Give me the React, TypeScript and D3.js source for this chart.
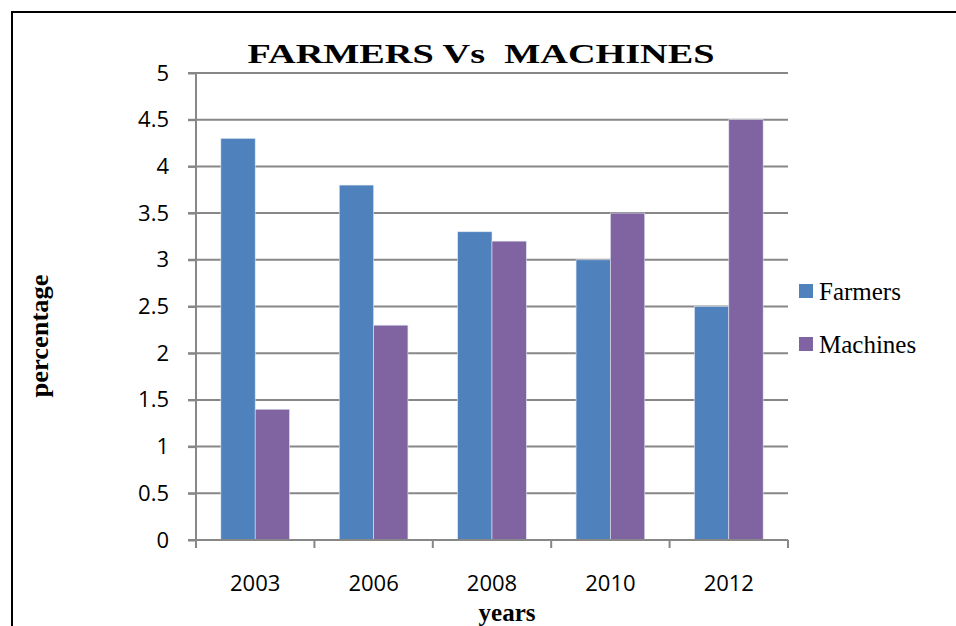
import React, { useEffect, useRef } from 'react';
import * as d3 from 'd3';

// chart values
const years = ['2003', '2006', '2008', '2010', '2012'];
const farmers = [4.3, 3.8, 3.3, 3.0, 2.5];
const machines = [1.4, 2.3, 3.2, 3.5, 4.5];
const seriesNames = ['Farmers', 'Machines'];
const yTicks = [0, 0.5, 1, 1.5, 2, 2.5, 3, 3.5, 4, 4.5, 5];

const WIDTH = 956;
const HEIGHT = 626;

const App = () => {
  const svgRef = useRef<SVGSVGElement>(null);

  useEffect(() => {
    const root = d3.select(svgRef.current);
    root.selectAll('*').remove();

    const margin = { top: 73, left: 196, right: 168, bottom: 86 };
    const innerWidth = WIDTH - margin.left - margin.right;
    const innerHeight = HEIGHT - margin.top - margin.bottom;
    const sans = '"Open Sans", sans-serif';
    const serif = '"Liberation Serif", "Times New Roman", serif';
    const grid = '#878787';

    const color = d3.scaleOrdinal<string, string>()
      .domain(seriesNames)
      .range(['#4F81BD', '#8064A2']);

    // outer frame (only left and top edges are inside the picture)
    root.append('path')
      .attr('d', `M12,${HEIGHT} V12 H${WIDTH}`)
      .attr('fill', 'none')
      .attr('stroke', '#000')
      .attr('stroke-width', 2);

    const svg = root.append('g')
      .attr('transform', `translate(${margin.left},${margin.top})`);

    const x0 = d3.scaleBand().domain(years).range([0, innerWidth]).paddingInner(0.42).paddingOuter(0.21);
    const x1 = d3.scaleBand().domain(seriesNames).range([0, x0.bandwidth()]);
    const xOuter = d3.scaleLinear().domain([0, years.length]).range([0, innerWidth]);
    const y = d3.scaleLinear().domain([0, 5]).range([innerHeight, 0]);

    // gridlines
    svg.append('g')
      .selectAll('line')
      .data(yTicks.filter(d => d > 0))
      .enter().append('line')
      .attr('x1', -8)
      .attr('x2', innerWidth)
      .attr('y1', d => y(d))
      .attr('y2', d => y(d))
      .attr('stroke', grid)
      .attr('stroke-width', 2);

    // bars
    const rows = years.map((yr, i) => ({ year: yr, values: [farmers[i], machines[i]] }));
    const groups = svg.append('g')
      .selectAll('g')
      .data(rows)
      .enter().append('g')
      .attr('transform', d => `translate(${x0(d.year)},0)`);

    groups.selectAll('rect')
      .data(d => d.values.map((v, i) => ({ key: seriesNames[i], value: v })))
      .enter().append('rect')
      .attr('x', d => x1(d.key) as number)
      .attr('width', x1.bandwidth())
      .attr('y', d => y(d.value))
      .attr('height', d => innerHeight - y(d.value))
      .attr('fill', d => color(d.key))
      .attr('stroke', '#dfe6f0')
      .attr('stroke-width', 0.6);

    // y axis
    const yAxis = svg.append('g')
      .call(d3.axisLeft(y).tickValues(yTicks).tickSize(8).tickPadding(19).tickFormat(d => String(d)));
    yAxis.select('.domain').remove();
    yAxis.selectAll('line').attr('stroke', grid).attr('stroke-width', 2);
    yAxis.selectAll('text')
      .attr('font-family', sans)
      .attr('font-size', 22)
      .attr('fill', '#000');
    svg.append('line')
      .attr('x1', 0).attr('x2', 0)
      .attr('y1', 0).attr('y2', innerHeight + 8)
      .attr('stroke', grid)
      .attr('stroke-width', 2);

    // x axis
    svg.append('line')
      .attr('x1', -8).attr('x2', innerWidth)
      .attr('y1', innerHeight).attr('y2', innerHeight)
      .attr('stroke', grid)
      .attr('stroke-width', 2);
    svg.append('g')
      .selectAll('line')
      .data(d3.range(years.length + 1))
      .enter().append('line')
      .attr('x1', d => xOuter(d))
      .attr('x2', d => xOuter(d))
      .attr('y1', innerHeight)
      .attr('y2', innerHeight + 8)
      .attr('stroke', grid)
      .attr('stroke-width', 2);
    svg.append('g')
      .selectAll('text')
      .data(years)
      .enter().append('text')
      .attr('x', d => (x0(d) as number) + x0.bandwidth() / 2)
      .attr('y', innerHeight + 51)
      .attr('text-anchor', 'middle')
      .attr('font-family', sans)
      .attr('font-size', 22)
      .text(d => d);

    // titles
    root.append('text')
      .attr('x', 481)
      .attr('y', 63)
      .attr('text-anchor', 'middle')
      .attr('font-family', serif)
      .attr('font-weight', 'bold')
      .attr('font-size', 27)
      .attr('textLength', 467)
      .attr('lengthAdjust', 'spacingAndGlyphs')
      .style('white-space', 'pre')
      .text('FARMERS Vs  MACHINES');

    root.append('text')
      .attr('transform', 'translate(48,336) rotate(-90)')
      .attr('text-anchor', 'middle')
      .attr('font-family', serif)
      .attr('font-weight', 'bold')
      .attr('font-size', 25)
      .attr('textLength', 123)
      .attr('lengthAdjust', 'spacingAndGlyphs')
      .text('percentage');

    root.append('text')
      .attr('x', 507)
      .attr('y', 621)
      .attr('text-anchor', 'middle')
      .attr('font-family', serif)
      .attr('font-weight', 'bold')
      .attr('font-size', 25)
      .text('years');

    // legend
    const legend = root.append('g')
      .selectAll('g')
      .data(seriesNames)
      .enter().append('g')
      .attr('transform', (d, i) => `translate(799,${284 + i * 53})`);
    legend.append('rect')
      .attr('width', 14)
      .attr('height', 14)
      .attr('fill', d => color(d));
    legend.append('text')
      .attr('x', 20)
      .attr('y', 16)
      .attr('font-family', serif)
      .attr('font-size', 25)
      .text(d => d);
  }, []);

  return (
    <div style={{ position: 'absolute', left: 0, top: 0, width: WIDTH, height: HEIGHT, background: '#fff' }}>
      <svg ref={svgRef} width={WIDTH} height={HEIGHT}></svg>
    </div>
  );
};

export default App;
